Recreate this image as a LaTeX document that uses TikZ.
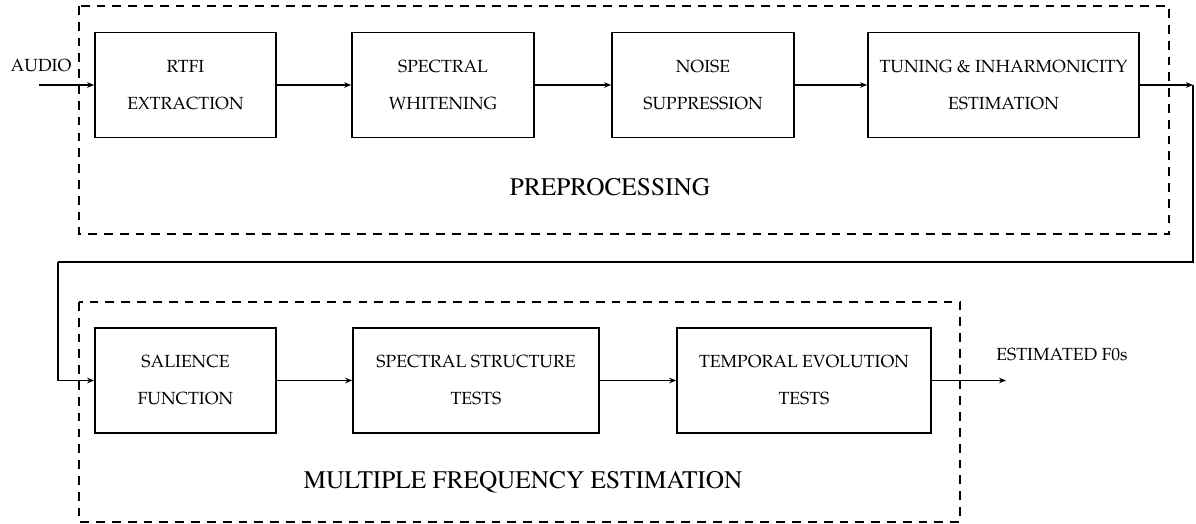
\documentclass[tikz,border=0pt]{standalone}
\usepackage[T1]{fontenc}
\renewcommand{\rmdefault}{ppl}
\usetikzlibrary{arrows.meta}
\newcommand{\grouplabel}{\fontfamily{ptm}\fontsize{14.4}{17}\selectfont}
\tikzstyle{block} = [draw=black, line width=1pt, rectangle, minimum height=2.1cm, align=center, inner sep=0pt, font=\fontsize{10}{21}\selectfont]
\tikzstyle{groupbox} = [draw=black, line width=1pt, dash pattern=on 5pt off 4pt]
\tikzstyle{flow} = [-{Stealth[length=4pt,width=3.2pt]}, line width=0.8pt]

\begin{document}
\begin{tikzpicture}
\useasboundingbox (0,0) rectangle (23.92,10.48);
\draw[groupbox] (1.58,10.36) rectangle (23.38,5.8);
\draw[groupbox] (1.58,4.44) rectangle (19.2,0.04);

\node[block, minimum width=3.62cm] (rtfi) at (3.71,8.78) {RTFI\\EXTRACTION};
\node[block, minimum width=3.64cm] (whiten) at (8.86,8.78) {SPECTRAL\\WHITENING};
\node[block, minimum width=3.64cm] (noise) at (14.06,8.78) {NOISE\\SUPPRESSION};
\node[block, minimum width=5.42cm] (tuning) at (20.07,8.78) {TUNING \& INHARMONICITY\\ESTIMATION};

\node[block, minimum width=3.62cm] (salience) at (3.71,2.87) {SALIENCE\\FUNCTION};
\node[block, minimum width=4.92cm] (structure) at (9.52,2.87) {SPECTRAL STRUCTURE\\TESTS};
\node[block, minimum width=5.08cm] (temporal) at (16.08,2.87) {TEMPORAL EVOLUTION\\TESTS};

\node[font=\grouplabel] (prelabel) at (12.2,6.74) {PREPROCESSING};
\node[font=\grouplabel] (mfelabel) at (10.46,0.84) {MULTIPLE FREQUENCY ESTIMATION};
\node[font=\fontsize{10}{12}\selectfont] (audio) at (0.82,9.16) {AUDIO};
\node[font=\fontsize{10}{12}\selectfont] (f0s) at (21.24,3.38) {ESTIMATED F0s};

\coordinate (audioin) at (0.78,8.78);
\coordinate (turn) at (23.86,8.78);
\coordinate (back) at (1.16,5.24);
\coordinate (f0out) at (20.12,2.87);

\draw[flow] (audioin) -- (rtfi.west);
\draw[flow] (rtfi) -- (whiten);
\draw[flow] (whiten) -- (noise);
\draw[flow] (noise) -- (tuning);
\draw[flow] (tuning) -- (turn);
\draw[line width=0.8pt] (turn) |- (back);
\draw[flow] (back) |- (salience.west);
\draw[flow] (salience) -- (structure);
\draw[flow] (structure) -- (temporal);
\draw[flow] (temporal) -- (f0out);
\end{tikzpicture}
\end{document}
